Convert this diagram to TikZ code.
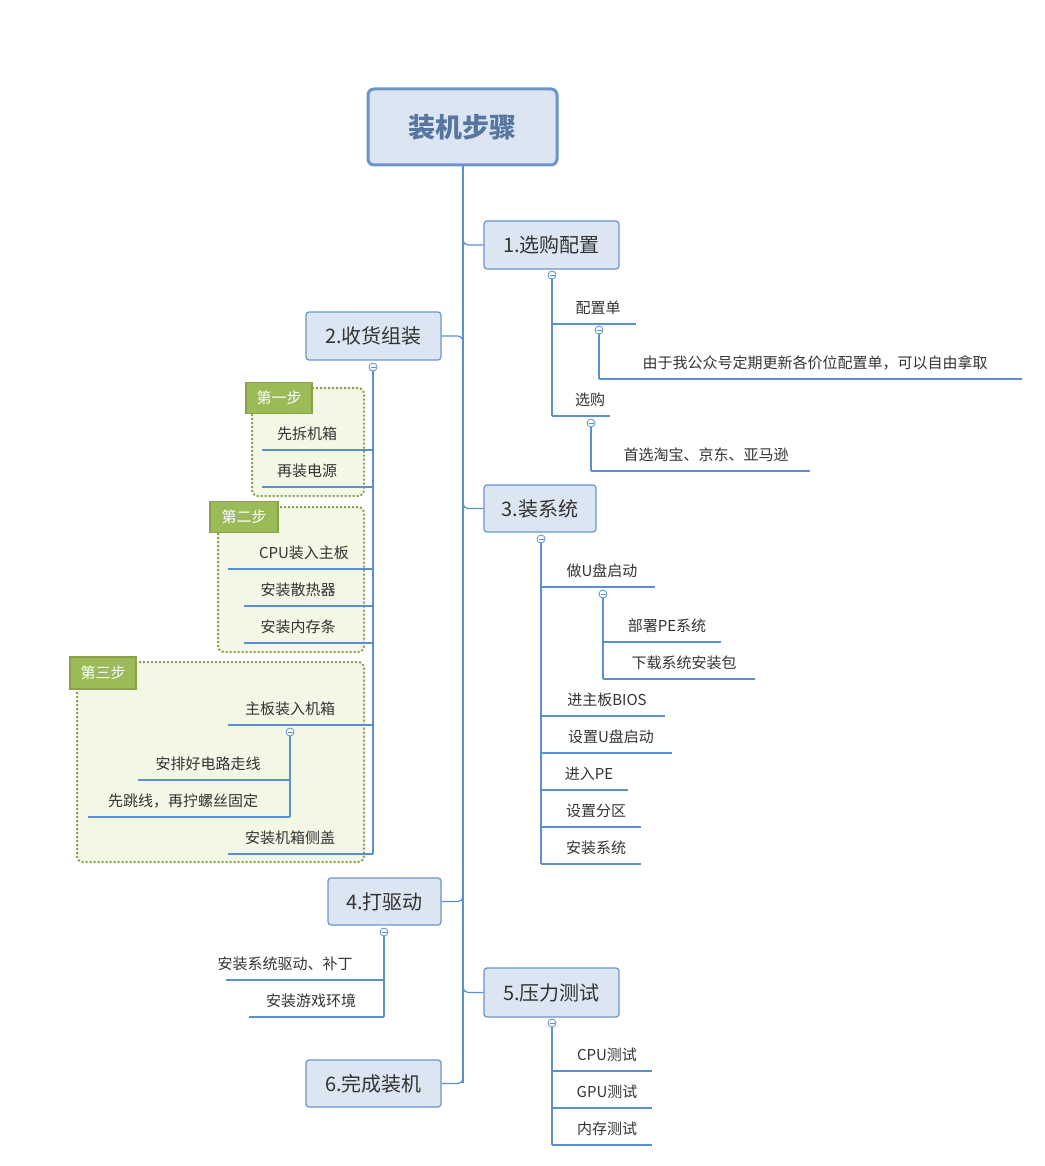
\documentclass[tikz,border=0pt]{standalone}
\usepackage{fontspec}
\setmainfont{Noto Sans CJK SC}
\definecolor{ln}{HTML}{5B8FCF}
\definecolor{bx}{HTML}{DCE6F2}
\definecolor{bxd}{HTML}{6C94C8}
\definecolor{tx}{HTML}{333333}
\definecolor{gf}{HTML}{F3F7E6}
\definecolor{gd}{HTML}{8AA04A}
\definecolor{gl}{HTML}{9BBB59}
\begin{document}
\begin{tikzpicture}[x=1pt,y=-1pt,
 ln/.style={draw=ln,line width=1.2pt},
 ul/.style={draw=ln,line width=2pt},
 txt/.style={font=\fontsize{15}{18}\selectfont,text=tx,inner sep=0pt},
 bbox/.style={draw=bxd,fill=bx,rounded corners=3pt,line width=1.2pt,font=\fontsize{20}{24}\selectfont,text=tx},
 grp/.style={draw=gd,fill=gf,dotted,line width=2pt,rounded corners=6pt},
 glab/.style={draw=gd,fill=gl,line width=1.2pt,font=\itshape\fontsize{15}{18}\selectfont,text=white},
 col/.style={circle,draw=ln,fill=white,inner sep=0pt,minimum size=8pt,line width=0.8pt}]
\useasboundingbox (0,0) rectangle (1044,1166);
% groups
\draw[grp] (252,388) rectangle (364,496);
\draw[grp] (218,507) rectangle (364,652);
\draw[grp] (77,662) rectangle (364,862);
\node[glab,minimum width=66pt,minimum height=31pt] (g1) at (279,398) {第一步};
\node[glab,minimum width=68pt,minimum height=31pt] (g2) at (244,517) {第二步};
\node[glab,minimum width=66pt,minimum height=32pt] (g3) at (103,673) {第三步};
% trunk
\draw[ln] (463,165) -- (463,1083);
\node[draw=bxd,fill=bx,rounded corners=6pt,line width=3pt,minimum width=189pt,minimum height=76pt,font=\bfseries\fontsize{27}{30}\selectfont,text=bxd!80!black] (root) at (462.5,127) {装机步骤};
\node[bbox,minimum width=135pt,minimum height=48pt] (b1) at (551.5,245) {1.选购配置};
\node[bbox,minimum width=135pt,minimum height=48pt] (b2) at (373.5,336) {2.收货组装};
\node[bbox,minimum width=112pt,minimum height=47pt] (b3) at (540,508.5) {3.装系统};
\node[bbox,minimum width=113pt,minimum height=47pt] (b4) at (384.5,901.5) {4.打驱动};
\node[bbox,minimum width=135pt,minimum height=49pt] (b5) at (551.5,992.5) {5.压力测试};
\node[bbox,minimum width=135pt,minimum height=47pt] (b6) at (373.5,1083.5) {6.完成装机};
\draw[ln,rounded corners=5pt] (463,232) |- (b1.west);
\draw[ln,rounded corners=5pt] (463,349) |- (b2.east);
\draw[ln,rounded corners=5pt] (463,495) |- (b3.west);
\draw[ln,rounded corners=5pt] (463,888) |- (b4.east);
\draw[ln,rounded corners=5pt] (463,980) |- (b5.west);
\draw[ln,rounded corners=5pt] (463,1070) |- (b6.east);
% branch 1
\draw[ln] (552,275) -- (552,416);
\draw[ul] (552,324) -- (636,324); \node[txt] (c11) at (598,308) {配置单};
\draw[ul] (552,416) -- (610,416); \node[txt] (c12) at (590,400) {选购};
\draw[ln] (599,330) -- (599,379); \draw[ul] (599,379) -- (1022,379);
\node[txt] (c111) at (815,363) {由于我公众号定期更新各价位配置单，可以自由拿取};
\draw[ln] (591,423) -- (591,471); \draw[ul] (591,471) -- (810,471);
\node[txt] (c121) at (706,455) {首选淘宝、京东、亚马逊};
\node[col] at (552,275) {}; \node[col] at (599,330) {}; \node[col] at (591,423) {};
% branch 3
\draw[ln] (541,539) -- (541,864);
\foreach \y/\e/\x/\t in {587/655/602/做U盘启动,716/665/607/进主板BIOS,753/672/611/设置U盘启动,790/628/589/进入PE,827/641/596/设置分区,864/641/596/安装系统}{
 \draw[ul] (541,\y) -- (\e,\y); \node[txt] at (\x,\y-16) {\t};}
\draw[ln] (603,594) -- (603,679);
\draw[ul] (603,642) -- (721,642); \node[txt] (c31) at (667,626) {部署PE系统};
\draw[ul] (603,679) -- (755,679); \node[txt] (c32) at (684,663) {下载系统安装包};
\node[col] at (541,539) {}; \node[col] at (603,594) {};
% branch 5
\draw[ln] (552,1023) -- (552,1145);
\foreach \y/\t in {1071/CPU测试,1108/GPU测试,1145/内存测试}{
 \draw[ul] (552,\y) -- (652,\y); \node[txt] at (607,\y-16) {\t};}
\node[col] at (552,1023) {};
% branch 2
\draw[ln] (373,367) -- (373,854);
\foreach \y/\s/\x/\t in {450/262/307/先拆机箱,487/262/307/再装电源,569/228/304/CPU装入主板,606/244/298/安装散热器,643/244/298/安装内存条,725/228/290/主板装入机箱,854/228/290/安装机箱侧盖}{
 \draw[ul] (\s,\y) -- (355,\y); \draw[ln] (355,\y) -- (373,\y); \node[txt] at (\x,\y-16) {\t};}
\draw[ln] (290,732) -- (290,817);
\draw[ul] (138,780) -- (290,780); \node[txt] (c231) at (208,764) {安排好电路走线};
\draw[ul] (88,817) -- (290,817); \node[txt] (c232) at (183,801) {先跳线，再拧螺丝固定};
\node[col] at (373,367) {}; \node[col] at (290,732) {};
% branch 4
\draw[ln] (384,932) -- (384,1017);
\draw[ul] (226,980) -- (384,980); \node[txt] (c41) at (285,964) {安装系统驱动、补丁};
\draw[ul] (249,1017) -- (384,1017); \node[txt] (c42) at (311,1001) {安装游戏环境};
\node[col] at (384,932) {};
% minus signs
\foreach \p in {(552,275),(599,330),(591,423),(541,539),(603,594),(552,1023),(373,367),(290,732),(384,932)}{
 \draw[ln,line width=0.7pt] \p ++(-2.5,0) -- ++(5,0);}
\end{tikzpicture}
\end{document}
